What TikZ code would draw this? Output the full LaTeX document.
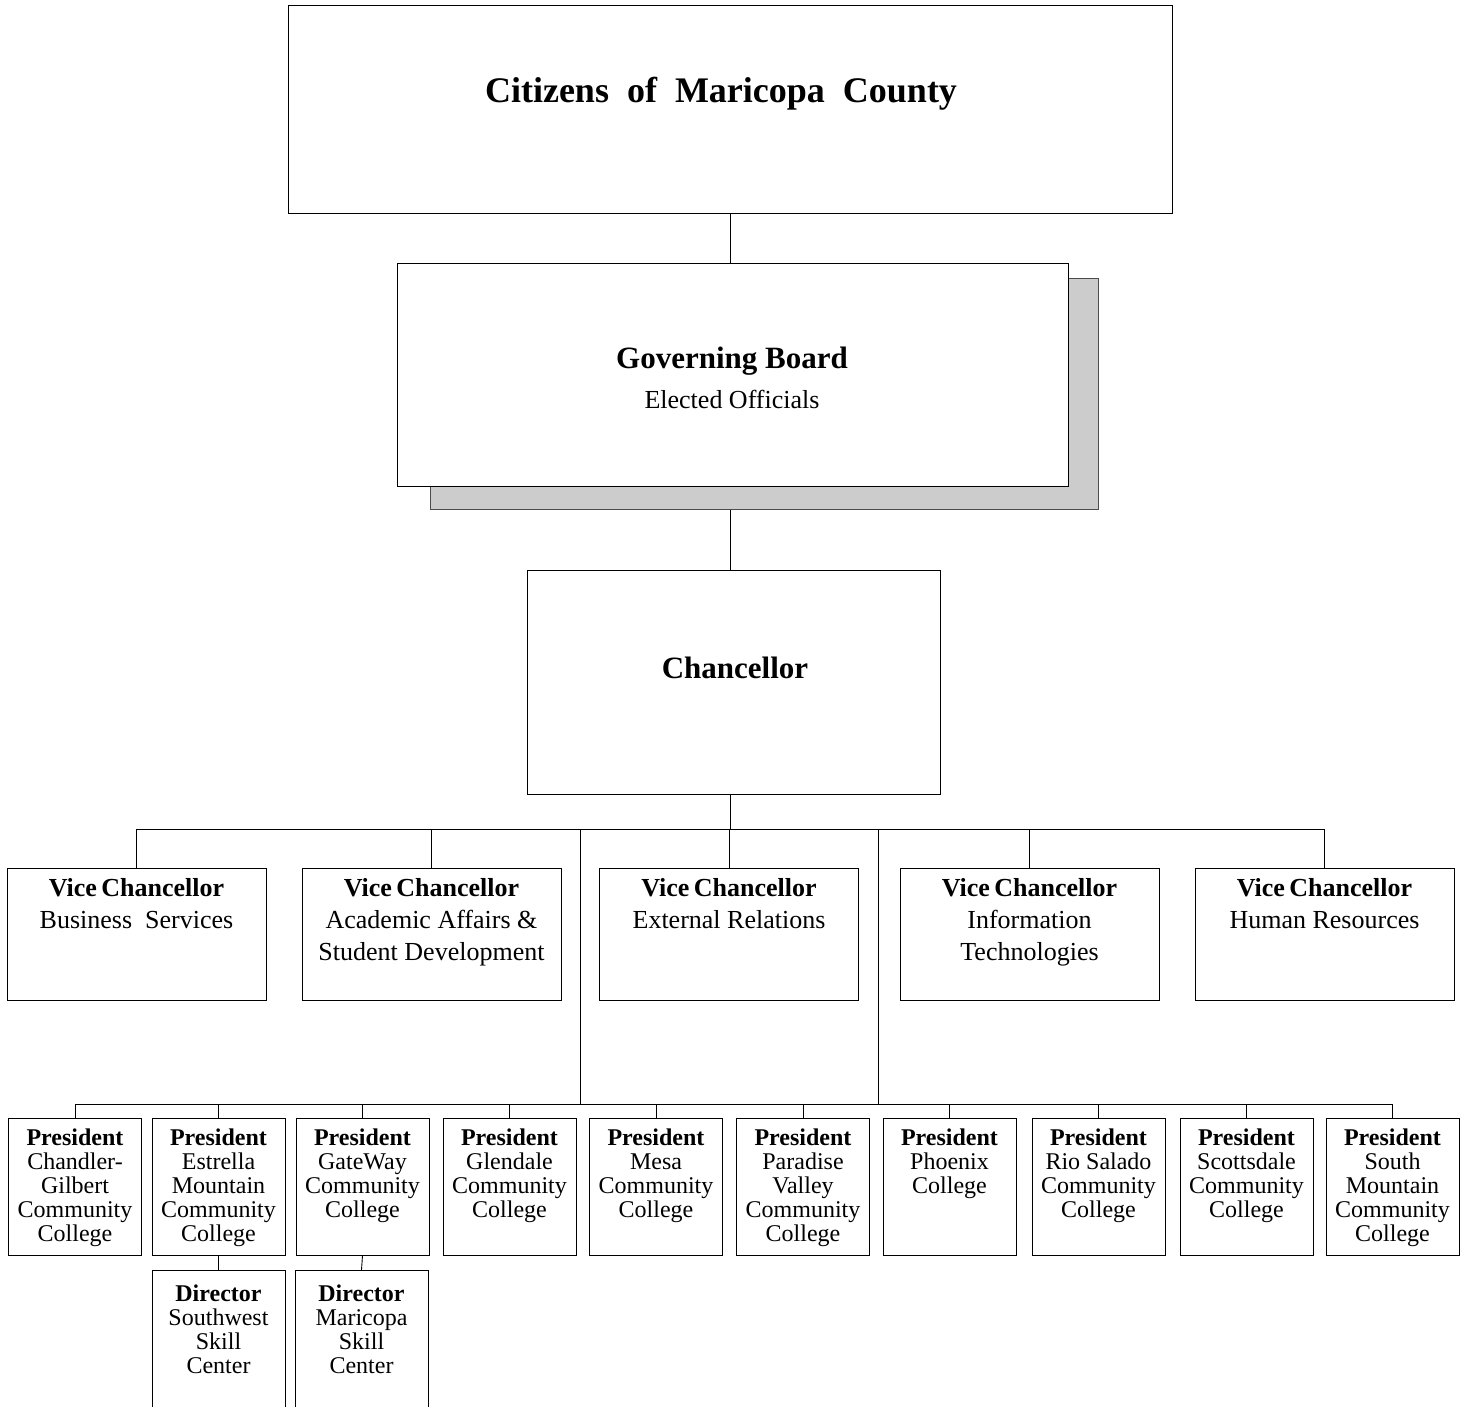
\documentclass[tikz,border=0pt]{standalone}
\usepackage{fontspec}
\setmainfont{Liberation Serif}
\usetikzlibrary{positioning}

\tikzset{
  box/.style={draw, line width=1pt, fill=white, inner sep=0pt},
  link/.style={line width=0.9pt},
  boxtext/.style={align=center, inner sep=0pt},
  vctext/.style={boxtext, font=\fontsize{26}{32}\selectfont},
  ptext/.style={boxtext, font=\fontsize{24}{24}\selectfont},
}

\begin{document}
\begin{tikzpicture}[x=1pt, y=-1pt]
  \useasboundingbox (0,0) rectangle (1467,1406);
  \clip (0,0) rectangle (1467,1406);

  % Citizens
  \node[box, minimum width=884pt, minimum height=208pt] (citizens) at (730,109) {};
  \node[boxtext, font=\fontsize{36}{40}\selectfont\bfseries] (citizenstext) at (721,94)
    {Citizens\ \ of\ \ Maricopa\ \ County};

  % Governing board with its shadow
  \node[box, draw=black!70, fill=black!20, minimum width=668pt, minimum height=231pt] (gbshadow) at (764,393.5) {};
  \node[box, minimum width=671pt, minimum height=223pt] (gb) at (732.5,374.5) {};
  \node[boxtext, font=\fontsize{26}{40}\selectfont] (gbtext) at (732,378)
    {{\fontsize{31}{40}\selectfont\bfseries Governing Board}\\Elected Officials};

  % Chancellor
  \node[box, minimum width=413pt, minimum height=224pt] (chancellor) at (733.5,682) {};
  \node[boxtext, font=\fontsize{31}{36}\selectfont\bfseries] (chancellortext) at (735,668) {Chancellor};

  \draw[link] (citizens.south) -- (citizens.south |- gb.north);
  \draw[link] (citizens.south |- gbshadow.south) -- (citizens.south |- chancellor.north);

  % Vice chancellors
  \foreach \i/\x/\txt in {1/136.5/{Business\ \ Services},
      2/431.5/{Academic Affairs \&\\Student Development},
      3/729/{External Relations},
      4/1029.5/{Information\\Technologies},
      5/1324.5/{Human Resources}} {
    \node[box, minimum width=259pt, minimum height=132pt] (vc\i) at (\x,934) {};
    \node[vctext, below=11pt of vc\i.north] (vc\i text) {\textbf{Vice\,Chancellor}\\\txt};
  }

  \coordinate (vcbus) at (0,829);
  \draw[link] (citizens.south |- chancellor.south) -- (citizens.south |- vcbus);
  \draw[link] (vc1.north) -- (vc1.north |- vcbus) -- (vc5.north |- vcbus) -- (vc5.north);
  \foreach \i in {2,3,4}
    \draw[link] (vc\i.north) -- (vc\i.north |- vcbus);

  % Branches down to the colleges
  \coordinate (lbranch) at (580,829);
  \coordinate (rbranch) at (878,829);
  \coordinate (pbus) at (0,1104);
  \draw[link] (lbranch) -- (lbranch |- pbus);
  \draw[link] (rbranch) -- (rbranch |- pbus);

  % Presidents
  \foreach \i/\x/\txt in {1/75/{Chandler-\\Gilbert\\Community\\College},
      2/218.5/{Estrella\\Mountain\\Community\\College},
      3/362.5/{GateWay\\Community\\College},
      4/509.5/{Glendale\\Community\\College},
      5/656/{Mesa\\Community\\College},
      6/803/{Paradise\\Valley\\Community\\College},
      7/949.5/{Phoenix\\College},
      8/1098.5/{Rio Salado\\Community\\College},
      9/1246.5/{Scottsdale\\Community\\College},
      10/1392.5/{South\\Mountain\\Community\\College}} {
    \node[box, minimum width=133pt, minimum height=137pt] (p\i) at (\x,1186.5) {};
    \node[ptext, below=11pt of p\i.north] (p\i text) {\textbf{President}\\\txt};
  }

  \draw[link] (p1.north) -- (p1.north |- pbus) -- (p10.north |- pbus) -- (p10.north);
  \foreach \i in {2,...,9}
    \draw[link] (p\i.north) -- (p\i.north |- pbus);

  % Directors
  \node[box, minimum width=133pt, minimum height=200pt, anchor=north] (d1) at (218.5,1270) {};
  \node[box, minimum width=133pt, minimum height=200pt, anchor=north] (d2) at (361.5,1270) {};
  \node[ptext, below=15pt of d1.north] (d1text) {\textbf{Director}\\Southwest\\Skill\\Center};
  \node[ptext, below=15pt of d2.north] (d2text) {\textbf{Director}\\Maricopa\\Skill\\Center};

  \draw[link, line width=1.8pt] (p2.south) -- (d1.north);
  \draw[link] (p3.south) -- (d2.north);
\end{tikzpicture}
\end{document}
